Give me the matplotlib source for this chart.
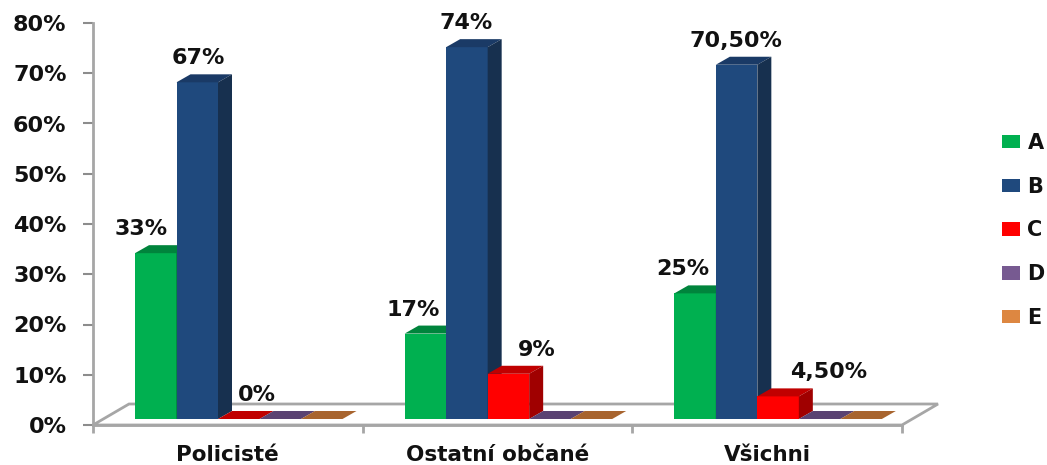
import matplotlib
matplotlib.use('Agg')
import matplotlib.pyplot as plt
from matplotlib.patches import Polygon, Patch
import numpy as np

categories = ['Policisté', 'Ostatní občané', 'Všichni']
series_names = ['A', 'B', 'C', 'D', 'E']
a_values = [33, 17, 25]
b_values = [67, 74, 70.5]
c_values = [0, 9, 4.5]
d_values = [0, 0, 0]
e_values = [0, 0, 0]
a_labels = ['33%', '17%', '25%']
b_labels = ['67%', '74%', '70,50%']
c_labels = ['0%', '9%', '4,50%']
y_ticks = [0, 10, 20, 30, 40, 50, 60, 70, 80]

series = [a_values, b_values, c_values, d_values, e_values]
labels = [a_labels, b_labels, c_labels, None, None]
front = ['#00B050', '#1F497D', '#FF0000', '#775A91', '#DD8741']
top = ['#00843C', '#1A3A66', '#C00000', '#5A4272', '#A8642E']
side = ['#006A30', '#17304F', '#A00000', '#4A3660', '#8A5226']
# horizontal shift of each value label, in px, per series and group
label_dx = [[-15, -12, -12], [1, -1, -1], [18, 28, 51]]

W, H = 1047, 465
L, R, B, T = 93, 902, 425, 23
fig = plt.figure(figsize=(W / 100, H / 100), dpi=100)
ax = fig.add_axes([L / W, 1 - B / H, (R - L) / W, (B - T) / H])
ax.set_xlim(0, 3)
ax.set_ylim(0, 80)
ax.patch.set_alpha(0)

px_x = 3 / (R - L)
px_y = 80 / (B - T)
bar_w = 41.5 * px_x
start = 42 * px_x
base = 6 * px_y
dx = 14 * px_x
dy = 8 * px_y

# floor
floor_dx = 36 * px_x
floor_dy = 21 * px_y
ax.add_patch(Polygon([(0, 0), (floor_dx, floor_dy), (3 + floor_dx, floor_dy), (3, 0)],
                     closed=True, fc='white', ec='#A6A6A6', lw=2, clip_on=False, zorder=1))

for g in range(3):
    for s in range(5):
        x0 = g + start + s * bar_w
        h = series[s][g]
        y1 = base + h
        ax.bar(x0, h, bar_w, bottom=base, align='edge', color=front[s], lw=0, zorder=3 + g + s * 0.1)
        ax.add_patch(Polygon([(x0, y1), (x0 + dx, y1 + dy), (x0 + bar_w + dx, y1 + dy), (x0 + bar_w, y1)],
                             closed=True, fc=top[s], lw=0, clip_on=False, zorder=3 + g + s * 0.1))
        if h > 0:
            ax.add_patch(Polygon([(x0 + bar_w, base), (x0 + bar_w + dx, base + dy),
                                  (x0 + bar_w + dx, y1 + dy), (x0 + bar_w, y1)],
                                 closed=True, fc=side[s], lw=0, clip_on=False, zorder=3 + g + s * 0.1))
        if labels[s] is not None:
            ax.text(x0 + bar_w / 2 + label_dx[s][g] * px_x, y1 + 24 * px_y, labels[s][g],
                    ha='center', va='center', fontsize=16, fontweight='bold', color='#111111', zorder=10)

for sp in ['top', 'right']:
    ax.spines[sp].set_visible(False)
for sp in ['left', 'bottom']:
    ax.spines[sp].set_color('#A6A6A6')
    ax.spines[sp].set_linewidth(2)

ax.set_yticks(y_ticks)
ax.set_yticklabels([str(v) + '%' for v in y_ticks], fontsize=16, fontweight='bold', color='#111111')
ax.set_xticks([0, 1, 2, 3])
ax.set_xticklabels([])
ax.tick_params(axis='y', length=7, width=1.5, color='#8C8C8C', pad=12)
ax.tick_params(axis='x', length=6, width=2, color='#A6A6A6')

for i, c in enumerate(categories):
    ax.text(i + 0.5, -30 * px_y, c, ha='center', va='center', fontsize=15.5, fontweight='bold', color='#111111')

handles = [Patch(fc=front[i], label=series_names[i]) for i in range(5)]
fig.legend(handles=handles, loc='upper left', bbox_to_anchor=(0.957, 0.714), frameon=False, ncol=1,
           prop={'size': 15, 'weight': 'bold'}, handlelength=0.87, handleheight=0.62,
           handletextpad=0.35, labelspacing=1.14, borderpad=0, borderaxespad=0, labelcolor='#111111')

fig.savefig('out.png', dpi=100, facecolor='white')
